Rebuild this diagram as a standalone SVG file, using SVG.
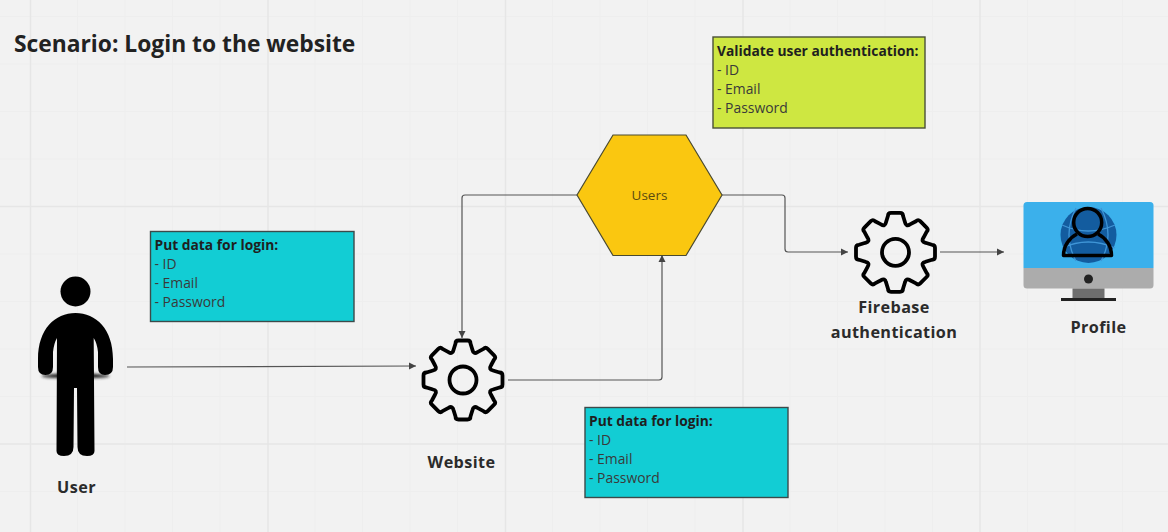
<svg xmlns="http://www.w3.org/2000/svg" xmlns:xlink="http://www.w3.org/1999/xlink" width="1168" height="532" viewBox="0 0 1168 532">
<style>
text{font-family:"Open Sans","Noto Sans","Liberation Sans",sans-serif}
.g1{stroke:#eeeeee;stroke-width:1.2;fill:none}
.g2{stroke:#e6e6e6;stroke-width:1.4;fill:none}
.box{stroke:#3c4a4a;stroke-width:1.4}
.t{font-size:13.9px;fill:#3a3a3a}
.b{font-size:13.8px;font-weight:700;fill:#1f1f1f}
.lab{font-size:16.2px;font-weight:700;fill:#2b2b2b;text-anchor:middle;letter-spacing:.4px}
.c{fill:none;stroke:#555;stroke-width:1.2;marker-end:url(#a)}
.gear{fill:none;stroke:#000;stroke-width:3.8;stroke-linejoin:round}
</style>
<defs>
<marker id="a" markerUnits="userSpaceOnUse" markerWidth="8" markerHeight="8" refX="7" refY="4" orient="auto"><path d="M0 .5L7 4L0 7.5z" fill="#444"/></marker>
<filter id="s" x="-20%" y="-100%" width="140%" height="300%"><feGaussianBlur stdDeviation="1.8"/></filter>
<g id="gearShape">
<path class="gear" d="M-9.5-30L-7.5-36.5Q-7.5-39.5-4.5-39.5L4.5-39.5Q7.5-39.5 7.5-36.5L9.5-30Q10.5-25.4 14.5-27.9L20.5-31.1Q22.6-33.2 24.7-31.1L31.1-24.7Q33.2-22.6 31.1-20.5L27.9-14.5Q25.4-10.5 30-9.5L36.5-7.5Q39.5-7.5 39.5-4.5L39.5 4.5Q39.5 7.5 36.5 7.5L30 9.5Q25.4 10.5 27.9 14.5L31.1 20.5Q33.2 22.6 31.1 24.7L24.7 31.1Q22.6 33.2 20.5 31.1L14.5 27.9Q10.5 25.4 9.5 30L7.5 36.5Q7.5 39.5 4.5 39.5L-4.5 39.5Q-7.5 39.5-7.5 36.5L-9.5 30Q-10.5 25.4-14.5 27.9L-20.5 31.1Q-22.6 33.2-24.7 31.1L-31.1 24.7Q-33.2 22.6-31.1 20.5L-27.9 14.5Q-25.4 10.5-30 9.5L-36.5 7.5Q-39.5 7.5-39.5 4.5L-39.5-4.5Q-39.5-7.5-36.5-7.5L-30-9.5Q-25.4-10.5-27.9-14.5L-31.1-20.5Q-33.2-22.6-31.1-24.7L-24.7-31.1Q-22.6-33.2-20.5-31.1L-14.5-27.9Q-10.5-25.4-9.5-30z"/>
<circle class="gear" r="13.5"/>
</g>
</defs>
<rect width="1168" height="532" fill="#f2f2f2"/>
<g id="grid">
<path class="g1" d="M77.5 0V532M125 0V532M172.5 0V532M220 0V532M315 0V532M362.5 0V532M410 0V532M457.5 0V532M552.5 0V532M600 0V532M647.5 0V532M695 0V532M790 0V532M837.5 0V532M885 0V532M932.5 0V532M1027.5 0V532M1075 0V532M1122.5 0V532M0 16.5H1168M0 64H1168M0 111.5H1168M0 159H1168M0 254H1168M0 301.5H1168M0 349H1168M0 396.5H1168M0 491.5H1168"/>
<path class="g2" d="M30.5 0V532M268 0V532M505.5 0V532M743 0V532M980 0V532M0 206.5H1168M0 444H1168"/>
</g>
<text id="title" x="14" y="52" font-size="22.8" font-weight="700" fill="#222">Scenario: Login to the website</text>
<g id="connectors">
<path class="c" d="M127 367L416 366"/>
<path class="c" d="M508 380H659Q662 380 662 377V255"/>
<path class="c" d="M577 195H465Q462 195 462 198V338"/>
<path class="c" d="M722 195H782Q785 195 785 198V249Q785 252 788 252H848"/>
<path class="c" d="M940 252H1004"/>
</g>
<g id="user">
<ellipse cx="75.500" cy="376" rx="34" ry="2.600" fill="#222" filter="url(#s)"/>
<circle cx="75.500" cy="291.500" r="15"/>
<path d="M75.500 313C96 313 113 329 113 359V367Q113 375 105 375Q98 375 98 367L98 352Q97 343 93.700 338L94.500 451Q94.500 456 87 456Q77.500 456 77.500 447L77 388H74L73.500 447Q73.500 456 64 456Q56.500 456 56.500 451L57 338Q54 343 53 352L53 367Q53 375 45.500 375Q38 375 38 367V359C38 329 55 313 75.500 313z"/>
<text class="lab" x="76.500" y="493">User</text>
</g>
<g id="note-login-1">
<rect class="box" x="150.500" y="231.500" width="203.500" height="90" fill="#12cdd4"/>
<text class="b" x="154.500" y="250">Put data for login:</text>
<text class="t" x="154.500" y="269">- ID</text>
<text class="t" x="154.500" y="288">- Email</text>
<text class="t" x="154.500" y="307">- Password</text>
</g>
<g id="website">
<use xlink:href="#gearShape" href="#gearShape" transform="translate(463 380)"/>
<text class="lab" x="461.500" y="467.500">Website</text>
</g>
<g id="note-login-2">
<rect class="box" x="585" y="407.500" width="203" height="90" fill="#12cdd4"/>
<text class="b" x="589" y="426">Put data for login:</text>
<text class="t" x="589" y="445">- ID</text>
<text class="t" x="589" y="464">- Email</text>
<text class="t" x="589" y="483">- Password</text>
</g>
<g id="users">
<path d="M613 135H686L722 195L686 255.500H613L577 195z" fill="#fac710" stroke="#4a4a30" stroke-width="1.200"/>
<text x="649.500" y="200" font-size="13.500" fill="#5a4a10" text-anchor="middle">Users</text>
</g>
<g id="note-validate">
<rect x="713" y="37" width="212" height="91" fill="#cee741" stroke="#4a5038" stroke-width="1.400"/>
<text class="b" x="717" y="56">Validate user authentication:</text>
<text class="t" x="717" y="75">- ID</text>
<text class="t" x="717" y="94">- Email</text>
<text class="t" x="717" y="113">- Password</text>
</g>
<g id="firebase">
<use xlink:href="#gearShape" href="#gearShape" transform="translate(895.500 252.300)"/>
<text class="lab" x="894" y="312.500">Firebase</text>
<text class="lab" x="894" y="337.500">authentication</text>
</g>
<g id="profile">
<path d="M1027 202H1150Q1153.500 202 1153.500 205.500V268H1023.500V205.500Q1023.500 202 1027 202z" fill="#3bb0eb"/>
<path d="M1023.500 268H1153.500V285Q1153.500 288.500 1150 288.500H1027Q1023.500 288.500 1023.500 285z" fill="#acacac"/>
<rect x="1072.500" y="288.500" width="32" height="10" fill="#6e6e6e"/>
<rect x="1061" y="298" width="55" height="3" fill="#222"/>
<circle cx="1088.500" cy="279" r="4.500" fill="#222"/>
<circle cx="1088.500" cy="235" r="28" fill="#135c9f"/>
<path d="M1062 225Q1088 237 1115 225M1062 248Q1088 236 1115 248M1076 208Q1062 235 1076 261M1101 208Q1115 235 1101 261" fill="none" stroke="#3f95d6" stroke-width="1.300"/>
<circle cx="1087.700" cy="222.500" r="14" fill="none" stroke="#000" stroke-width="3.500"/>
<path d="M1077 234C1069 238 1063.500 246 1063.500 255.500H1111.500C1111.500 246 1106 238 1098 234" fill="none" stroke="#000" stroke-width="3.500" stroke-linejoin="round"/>
<text class="lab" x="1098.500" y="332.500">Profile</text>
</g>
</svg>
